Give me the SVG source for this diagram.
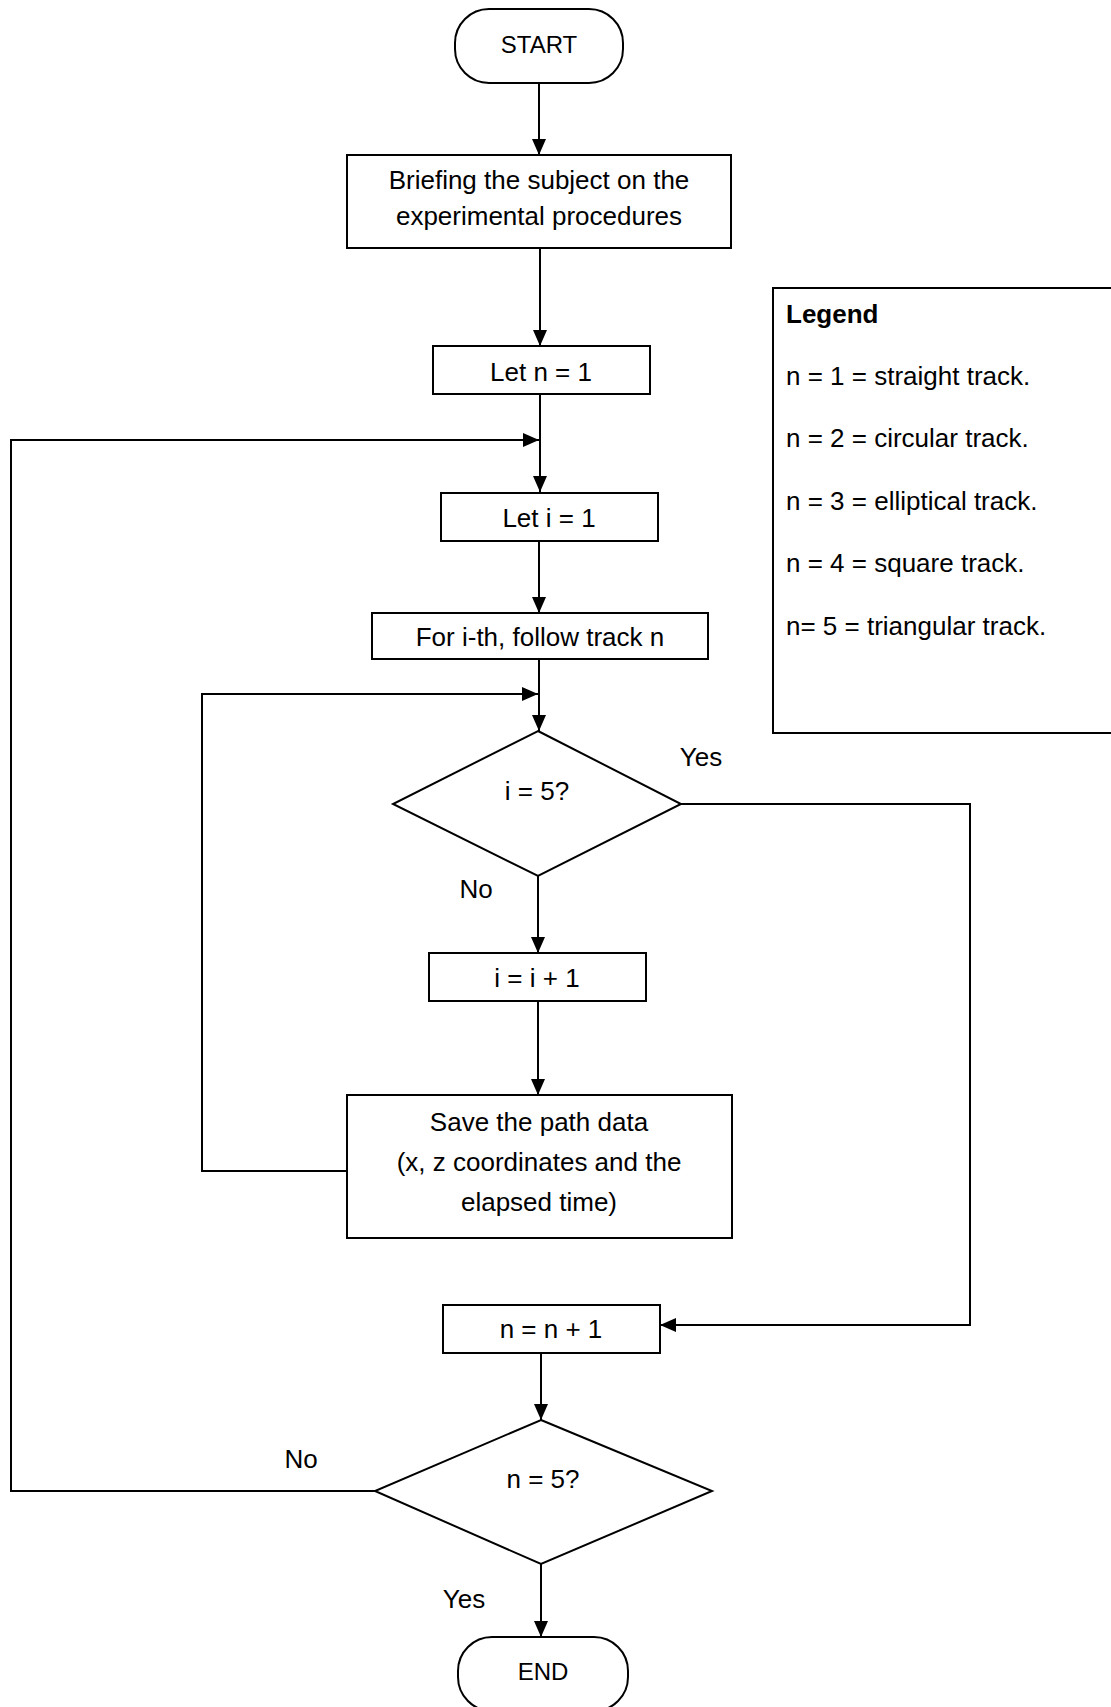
<svg xmlns="http://www.w3.org/2000/svg" width="1111" height="1707" viewBox="0 0 1111 1707">
<style>
.shape{fill:#fff;stroke:#000;stroke-width:2}
.conn{fill:none;stroke:#000;stroke-width:2}
text{font-family:"Liberation Sans",Arial,sans-serif;font-size:26px;fill:#000}
.c{text-anchor:middle}
.b{font-weight:bold}
.t{font-size:24px}
</style>
<defs>
<marker id="arr" markerUnits="userSpaceOnUse" markerWidth="16" markerHeight="14" refX="16" refY="7" orient="auto">
<path d="M0,0 L16,7 L0,14 z" fill="#000"/>
</marker>
</defs>
<rect width="1111" height="1707" fill="#fff"/>
<g id="connectors">
<line class="conn" x1="539" y1="83" x2="539" y2="155" marker-end="url(#arr)"/>
<line class="conn" x1="540" y1="248" x2="540" y2="346" marker-end="url(#arr)"/>
<line class="conn" x1="540" y1="394" x2="540" y2="492" marker-end="url(#arr)"/>
<path class="conn" d="M375,1491 H11 V440 H539" marker-end="url(#arr)"/>
<line class="conn" x1="539" y1="541" x2="539" y2="613" marker-end="url(#arr)"/>
<line class="conn" x1="539" y1="659" x2="539" y2="731" marker-end="url(#arr)"/>
<path class="conn" d="M347,1171 H202 V694 H538" marker-end="url(#arr)"/>
<path class="conn" d="M681,804 H970 V1325 H660" marker-end="url(#arr)"/>
<line class="conn" x1="538" y1="876" x2="538" y2="953" marker-end="url(#arr)"/>
<line class="conn" x1="538" y1="1001" x2="538" y2="1095" marker-end="url(#arr)"/>
<line class="conn" x1="541" y1="1353" x2="541" y2="1420" marker-end="url(#arr)"/>
<line class="conn" x1="541" y1="1564" x2="541" y2="1637" marker-end="url(#arr)"/>
<text class="c" x="701" y="766">Yes</text>
<text class="c" x="476" y="898">No</text>
<text class="c" x="301" y="1468">No</text>
<text class="c" x="464" y="1608">Yes</text>
</g>
<g id="start">
<rect class="shape" x="455" y="9" width="168" height="74" rx="34"/>
<text class="c t" x="539" y="53">START</text>
</g>
<g id="briefing">
<rect class="shape" x="347" y="155" width="384" height="93"/>
<text class="c" x="539" y="189">Briefing the subject on the</text>
<text class="c" x="539" y="225">experimental procedures</text>
</g>
<g id="let-n">
<rect class="shape" x="433" y="346" width="217" height="48"/>
<text class="c" x="541" y="381">Let n = 1</text>
</g>
<g id="let-i">
<rect class="shape" x="441" y="493" width="217" height="48"/>
<text class="c" x="549" y="527">Let i = 1</text>
</g>
<g id="follow">
<rect class="shape" x="372" y="613" width="336" height="46"/>
<text class="c" x="540" y="646">For i-th, follow track n</text>
</g>
<g id="check-i">
<polygon class="shape" points="538,731 681,804 538,876 393,804"/>
<text class="c" x="537" y="800">i = 5?</text>
</g>
<g id="inc-i">
<rect class="shape" x="429" y="953" width="217" height="48"/>
<text class="c" x="537" y="987">i = i + 1</text>
</g>
<g id="save">
<rect class="shape" x="347" y="1095" width="385" height="143"/>
<text class="c" x="539" y="1131">Save the path data</text>
<text class="c" x="539" y="1171">(x, z coordinates and the</text>
<text class="c" x="539" y="1211">elapsed time)</text>
</g>
<g id="inc-n">
<rect class="shape" x="443" y="1305" width="217" height="48"/>
<text class="c" x="551" y="1338">n = n + 1</text>
</g>
<g id="check-n">
<polygon class="shape" points="541,1420 712,1491 541,1564 375,1491"/>
<text class="c" x="543" y="1488">n = 5?</text>
</g>
<g id="end">
<rect class="shape" x="458" y="1637" width="170" height="74" rx="34"/>
<text class="c t" x="543" y="1680">END</text>
</g>
<g id="legend">
<rect class="shape" x="773" y="288" width="345" height="445"/>
<text class="b" x="786" y="323">Legend</text>
<text x="786" y="385">n = 1 = straight track.</text>
<text x="786" y="447">n = 2 = circular track.</text>
<text x="786" y="510">n = 3 = elliptical track.</text>
<text x="786" y="572">n = 4 = square track.</text>
<text x="786" y="635">n= 5 = triangular track.</text>
</g>
</svg>
